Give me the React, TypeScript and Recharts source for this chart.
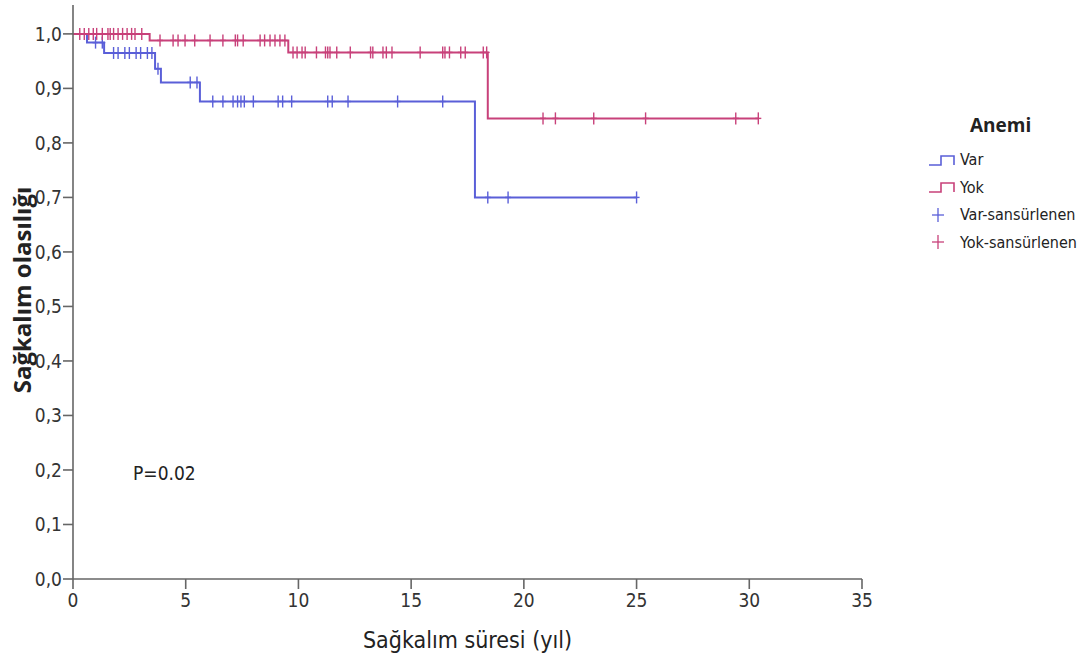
import { ComposedChart, Line, Scatter, XAxis, YAxis, Label } from "recharts";

// Kaplan-Meier step points (time in years, survival probability)
const varTimes = [0, 0.62, 1.38, 3.64, 3.9, 5.63, 17.83, 25.0];
const varSurv = [1.0, 0.984, 0.965, 0.936, 0.911, 0.876, 0.70, 0.70];

const yokTimes = [0, 3.4, 9.55, 18.4, 30.4];
const yokSurv = [1.0, 0.988, 0.966, 0.845, 0.845];

// censored observations (years)
const varCensored = [
  1.0, 1.3, 1.8, 2.0, 2.3, 2.5, 2.8, 3.0, 3.3, 3.5, 3.77, 5.2, 5.5, 6.2, 6.65,
  7.1, 7.3, 7.45, 7.6, 8.0, 9.1, 9.3, 9.7, 11.3, 11.5, 12.2, 14.4, 16.4, 18.4,
  19.3, 25.0,
];
const yokCensored = [
  0.3, 0.5, 0.7, 0.9, 1.05, 1.3, 1.55, 1.65, 1.8, 2.0, 2.2, 2.4, 2.6, 2.75,
  3.05, 3.86, 4.44, 4.66, 4.97, 5.4, 6.08, 6.65, 7.2, 7.3, 7.55, 8.3, 8.5,
  8.74, 8.96, 9.18, 9.4, 9.76, 9.94, 10.16, 10.3, 10.8, 11.2, 11.3, 11.4, 11.7,
  12.3, 13.2, 13.3, 13.75, 13.9, 14.15, 15.4, 16.4, 16.5, 16.7, 17.2, 17.4,
  18.2, 18.35, 20.85, 21.4, 23.1, 25.4, 29.4, 30.4,
];

const xTicks = [0, 5, 10, 15, 20, 25, 30, 35];
const yTicks = [0, 0.1, 0.2, 0.3, 0.4, 0.5, 0.6, 0.7, 0.8, 0.9, 1.0];

const BLUE = "#5a5fd8";
const RED = "#c8417a";
const AXIS = "#666";
const FONT = "'Liberation Sans Narrow', 'DejaVu Sans Condensed', 'Arial Narrow', sans-serif";

const toSteps = (times: number[], surv: number[]) =>
  times.map((t, i) => ({ t, s: surv[i] }));

// survival level of the curve at a censor time
const levelAt = (times: number[], surv: number[], t: number) => {
  let s = surv[0];
  times.forEach((tt, i) => {
    if (tt <= t) s = surv[i];
  });
  return s;
};

const varData = toSteps(varTimes, varSurv);
const yokData = toSteps(yokTimes, yokSurv);
const varMarks = varCensored.map((t) => ({ t, s: levelAt(varTimes, varSurv, t) }));
const yokMarks = yokCensored.map((t) => ({ t, s: levelAt(yokTimes, yokSurv, t) }));

const plusShape = (color: string) => (props: any) => {
  const { cx, cy } = props;
  return (
    <g stroke={color} strokeWidth={1.4}>
      <line x1={cx} y1={cy - 6} x2={cx} y2={cy + 6} />
      <line x1={cx - 3} y1={cy} x2={cx + 3} y2={cy} />
    </g>
  );
};

const StepIcon = ({ color }: { color: string }) => (
  <svg width={30} height={14} style={{ marginRight: 2 }}>
    <path d="M1,12 H13 V3 H26 V12" fill="none" stroke={color} strokeWidth={1.6} />
  </svg>
);

const PlusIcon = ({ color }: { color: string }) => (
  <svg width={30} height={16} style={{ marginRight: 2 }}>
    <line x1={10} y1={1} x2={10} y2={15} stroke={color} strokeWidth={1.3} />
    <line x1={4} y1={8} x2={16} y2={8} stroke={color} strokeWidth={1.3} />
  </svg>
);

const legendItems = [
  { label: "Var", icon: <StepIcon color={BLUE} /> },
  { label: "Yok", icon: <StepIcon color={RED} /> },
  { label: "Var-sansürlenen", icon: <PlusIcon color={BLUE} /> },
  { label: "Yok-sansürlenen", icon: <PlusIcon color={RED} /> },
];

const LegendBox = () => (
  <div
    style={{
      position: "absolute",
      left: 928,
      top: 112,
      width: 160,
      fontFamily: FONT,
      color: "#222",
    }}
  >
    <div
      style={{
        fontWeight: "bold",
        fontSize: 19,
        marginLeft: 42,
        marginBottom: 8,
        fontFamily: "'Open Sans', sans-serif",
      }}
    >
      Anemi
    </div>
    {legendItems.map((it) => (
      <div
        key={it.label}
        style={{ display: "flex", alignItems: "center", height: 27.5, fontSize: 16 }}
      >
        {it.icon}
        <span>{it.label}</span>
      </div>
    ))}
  </div>
);

const tickStyle = { fontSize: 19, fill: "#333", fontFamily: FONT };

export default function App() {
  return (
    <div style={{ position: "absolute", left: 0, top: 0, width: 1086, height: 670, background: "#fff" }}>
      <ComposedChart
        width={1086}
        height={670}
        margin={{ top: 5, right: 224, left: 0, bottom: 0 }}
      >
        <XAxis
          dataKey="t"
          type="number"
          domain={[0, 35]}
          ticks={xTicks}
          allowDuplicatedCategory={false}
          height={91}
          stroke={AXIS}
          strokeWidth={1.6}
          tickSize={10}
          tickMargin={5}
          tick={tickStyle}
        >
          <Label
            value="Sağkalım süresi (yıl)"
            position="insideBottom"
            offset={22}
            style={{ fontSize: 23, fill: "#222", fontFamily: FONT }}
          />
        </XAxis>
        <YAxis
          type="number"
          domain={[0, 1.053]}
          ticks={yTicks}
          width={73}
          stroke={AXIS}
          strokeWidth={1.6}
          tickSize={10}
          tickMargin={1}
          tick={tickStyle}
          tickFormatter={(v: number) => v.toFixed(1).replace(".", ",")}
        />
        <Line
          data={varData}
          dataKey="s"
          type="stepAfter"
          stroke={BLUE}
          strokeWidth={2}
          dot={false}
          isAnimationActive={false}
          legendType="none"
        />
        <Line
          data={yokData}
          dataKey="s"
          type="stepAfter"
          stroke={RED}
          strokeWidth={2}
          dot={false}
          isAnimationActive={false}
          legendType="none"
        />
        <Scatter
          data={varMarks}
          dataKey="s"
          shape={plusShape(BLUE)}
          isAnimationActive={false}
          legendType="none"
        />
        <Scatter
          data={yokMarks}
          dataKey="s"
          shape={plusShape(RED)}
          isAnimationActive={false}
          legendType="none"
        />
        <text
          x={21}
          y={290}
          transform="rotate(-90 21 290)"
          textAnchor="middle"
          dominantBaseline="central"
          fontSize={24}
          fontWeight="bold"
          fill="#222"
          fontFamily="'Open Sans', sans-serif"
        >
          Sağkalım olasılığı
        </text>
        <text x={133} y={480} fontSize={19} fill="#222" fontFamily={FONT}>
          P=0.02
        </text>
      </ComposedChart>
      <LegendBox />
    </div>
  );
}
